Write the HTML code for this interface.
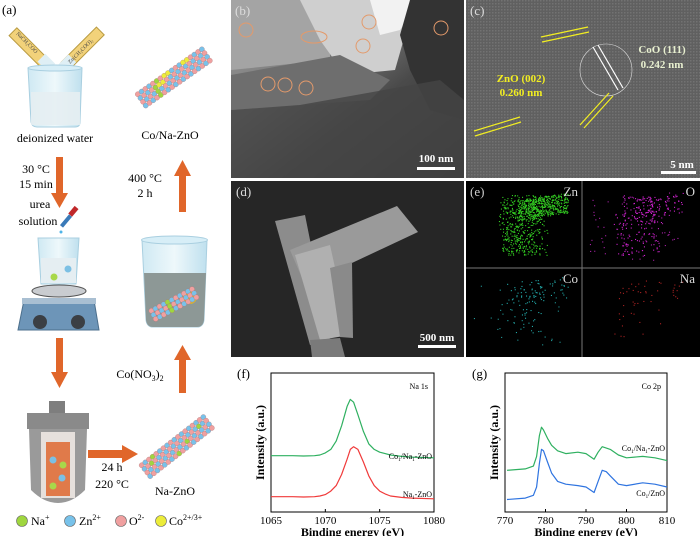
<!DOCTYPE html>
<html><head><meta charset="utf-8"><style>
html,body{margin:0;padding:0;background:#fff;}
svg{display:block;font-family:"Liberation Serif",serif;}
</style></head><body>
<svg id="fig" width="700" height="536" viewBox="0 0 700 536" xmlns="http://www.w3.org/2000/svg">
<defs>
<linearGradient id="glass" x1="0" x2="1"><stop offset="0" stop-color="#cfe9f3"/><stop offset="0.5" stop-color="#eef8fb"/><stop offset="1" stop-color="#bfe0ee"/></linearGradient>
<linearGradient id="bgB" x1="0" y1="0" x2="1" y2="1"><stop offset="0" stop-color="#9a9a9a"/><stop offset="0.35" stop-color="#7d7d7d"/><stop offset="0.6" stop-color="#4a4a4a"/><stop offset="1" stop-color="#2e2e2e"/></linearGradient>
<pattern id="lattice" width="3" height="3" patternUnits="userSpaceOnUse"><rect width="3" height="3" fill="#6a6a6a"/><rect width="1.5" height="1.5" fill="#8a8a8a"/></pattern>
</defs>

<!-- ================= Panel (a) ================= -->
<g>
<text x="2" y="14" font-size="13">(a)</text>
<g>
<rect x="25" y="24" width="11" height="50" fill="#f2d27a" stroke="#b89a40" transform="rotate(-45 31 49)"/>
<rect x="77" y="24" width="11" height="50" fill="#f2d27a" stroke="#b89a40" transform="rotate(45 83 49)"/>
<rect x="41" y="56" width="11" height="14" fill="#dfeff5" transform="rotate(-45 46 63)"/>
<rect x="62" y="56" width="11" height="14" fill="#dfeff5" transform="rotate(45 67 63)"/>
<text x="0" y="0" font-size="5.5" transform="translate(16,34) rotate(45)" fill="#444">NaCH₃COO</text>
<text x="0" y="0" font-size="5.5" transform="translate(70,64) rotate(-45)" fill="#444">Zn(CH₃COO)₂</text>
</g>
<g>
<path d="M28 68 L31 122 Q32 127 37 127 L75 127 Q80 127 80 122 L82 68 Z" fill="url(#glass)" stroke="#a9cfe0"/>
<rect x="31" y="92" width="49" height="33" fill="#e5eef2" opacity="0.9"/>
<ellipse cx="55" cy="68" rx="27" ry="3" fill="#d7eef7" stroke="#a9cfe0"/>
</g>
<text x="55" y="142" font-size="12" text-anchor="middle">deionized water</text>

<g fill="#e0662a">
<rect x="56" y="157" width="7" height="38"/><polygon points="51,193 68,193 59.5,208"/>
<rect x="56" y="338" width="7" height="36"/><polygon points="51,372 68,372 59.5,388"/>
<rect x="88" y="450" width="36" height="8"/><polygon points="122,445 122,463 138,454"/>
<rect x="179" y="358" width="7" height="35"/><polygon points="174,360 191,360 182.5,345"/>
<rect x="179" y="174" width="7" height="38"/><polygon points="174,176 191,176 182.5,160"/>
</g>
<text x="36" y="173" font-size="12" text-anchor="middle">30 °C</text>
<text x="36" y="188" font-size="12" text-anchor="middle">15 min</text>
<text x="40" y="208" font-size="12" text-anchor="middle">urea</text>
<text x="38" y="225" font-size="12" text-anchor="middle">solution</text>
<g>
<rect x="64" y="214" width="4" height="14" fill="#3a7ab8" transform="rotate(40 66 221)"/>
<rect x="71" y="206" width="5" height="10" fill="#c0282a" transform="rotate(40 73 211)"/>
<circle cx="61" cy="232" r="1.5" fill="#4fb4e8"/>
</g>
<text x="145" y="182" font-size="12" text-anchor="middle">400 °C</text>
<text x="145" y="197" font-size="12" text-anchor="middle">2 h</text>
<text x="140" y="378" font-size="12" text-anchor="middle">Co(NO<tspan font-size="8" dy="3">3</tspan><tspan dy="-3">)</tspan><tspan font-size="8" dy="3">2</tspan></text>
<text x="112" y="471" font-size="12" text-anchor="middle">24 h</text>
<text x="112" y="488" font-size="12" text-anchor="middle">220 °C</text>
<text x="175" y="495" font-size="12" text-anchor="middle">Na-ZnO</text>
<text x="170" y="139" font-size="12" text-anchor="middle">Co/Na-ZnO</text>

<g>
<path d="M38 238 L41 284 L76 284 L79 238 Z" fill="url(#glass)" stroke="#a9cfe0"/>
<rect x="41" y="258" width="35" height="25" fill="#e5eef2"/>
<circle cx="54" cy="277" r="3.5" fill="#a8d84a"/><circle cx="68" cy="269" r="3.5" fill="#7cc0e4"/>
<ellipse cx="59" cy="291" rx="27" ry="6" fill="#c9ccd0" stroke="#555"/>
<path d="M24 300 L94 300 L99 330 L18 330 Z" fill="#6d95b8" stroke="#4c6f8c"/>
<rect x="22" y="298" width="74" height="6" fill="#a9bfd2"/>
<circle cx="40" cy="322" r="7" fill="#3b3f44"/><circle cx="78" cy="322" r="7" fill="#3b3f44"/>
</g>
<g>
<rect x="49" y="401" width="16" height="12" fill="#7e7e7e"/>
<rect x="27" y="413" width="62" height="16" fill="#8a8a8a"/>
<path d="M29 429 L87 429 L85 490 Q72 503 58 503 Q44 503 31 490 Z" fill="#9a9a9a"/>
<rect x="41" y="432" width="34" height="66" fill="#e6e0dc"/>
<rect x="46" y="442" width="24" height="54" fill="#e07a4a"/>
<circle cx="53" cy="460" r="3.5" fill="#7cc0e4"/><circle cx="63" cy="465" r="3.5" fill="#a8d84a"/>
<circle cx="62" cy="478" r="3.5" fill="#7cc0e4"/><circle cx="53" cy="486" r="3.5" fill="#a8d84a"/>
</g>
<g>
<path d="M142 240 L146 320 Q147 327 153 327 L197 327 Q203 327 204 320 L207 240 Z" fill="url(#glass)" stroke="#a9cfe0"/>
<path d="M144 273 L206 273 L204 320 Q203 327 197 327 L153 327 Q147 327 146 320 Z" fill="#8d9896"/>
<circle cx="190" cy="297" r="7" fill="#d9b430"/>
<ellipse cx="174.5" cy="240" rx="33" ry="4" fill="#d7eef7" stroke="#a9cfe0"/>
</g>
<g id="rods"></g>
<g font-size="12">
<circle cx="22" cy="521" r="5.5" fill="#9fd63f" stroke="#666" stroke-width="0.6"/><text x="31" y="525">Na<tspan font-size="8" dy="-5">+</tspan></text>
<circle cx="70" cy="521" r="5.5" fill="#78c2ea" stroke="#666" stroke-width="0.6"/><text x="79" y="525">Zn<tspan font-size="8" dy="-5">2+</tspan></text>
<circle cx="121" cy="521" r="5.5" fill="#f0a0a0" stroke="#666" stroke-width="0.6"/><text x="129" y="525">O<tspan font-size="8" dy="-5">2-</tspan></text>
<circle cx="161" cy="521" r="5.5" fill="#ecec3a" stroke="#666" stroke-width="0.6"/><text x="169" y="525">Co<tspan font-size="8" dy="-5">2+/3+</tspan></text>
</g>
</g>

<!-- ================= Panel (b) ================= -->
<g>
<rect x="231" y="0" width="233" height="178" fill="url(#bgB)"/>
<path d="M231 0 L300 0 L330 25 L330 60 L231 70 Z" fill="#a4a4a4"/>
<path d="M300 0 L410 0 L405 35 L395 70 L345 75 L320 40 Z" fill="#cfcfcf"/>
<path d="M370 0 L420 0 L400 30 L380 35 Z" fill="#f2f2f2"/>
<path d="M410 0 L464 0 L464 120 L430 110 L410 70 L400 35 Z" fill="#333"/>
<path d="M231 75 L340 55 L390 80 L370 100 L300 105 L231 110 Z" fill="#6e6e6e"/>
<path d="M231 110 L300 105 L440 80 L464 100 L464 178 L231 178 Z" fill="#454545" opacity="0.8"/>
<g fill="none" stroke="#e39a6b" stroke-width="1">
<circle cx="246" cy="30" r="7"/><ellipse cx="314" cy="37" rx="13" ry="6"/><circle cx="369" cy="22" r="7"/><circle cx="363" cy="46" r="7"/><circle cx="441" cy="28" r="7"/><circle cx="268" cy="84" r="7"/><circle cx="285" cy="85" r="7"/><circle cx="306" cy="88" r="7"/>
</g>
<text x="235" y="15" font-size="13" fill="#ddd">(b)</text>
<text x="436" y="162" font-size="11" font-weight="bold" fill="#fff" text-anchor="middle">100 nm</text>
<rect x="417" y="167" width="38" height="3" fill="#fff"/>
</g>

<!-- ================= Panel (c) ================= -->
<g>
<rect x="466" y="0" width="234" height="178" fill="url(#lattice)"/>
<rect x="466" y="0" width="234" height="178" fill="#555" opacity="0.45"/>
<circle cx="606" cy="70" r="26" fill="none" stroke="#ddd" stroke-width="0.6"/>
<g stroke="#f2ee22" stroke-width="1.2">
<line x1="541" y1="37" x2="588" y2="27"/><line x1="542" y1="42" x2="589" y2="32"/>
<line x1="474" y1="131" x2="520" y2="117"/><line x1="475" y1="136" x2="521" y2="122"/>
<line x1="580" y1="125" x2="609" y2="93"/><line x1="584" y1="128" x2="613" y2="96"/>
</g>
<g stroke="#fff" stroke-width="1.2"><line x1="593" y1="47" x2="618" y2="90"/><line x1="598" y1="45" x2="623" y2="88"/></g>
<text x="470" y="15" font-size="13" fill="#ddd">(c)</text>
<text x="521" y="82" font-size="11" font-weight="bold" fill="#f2ee22" text-anchor="middle">ZnO (002)</text>
<text x="521" y="96" font-size="11" font-weight="bold" fill="#f2ee22" text-anchor="middle">0.260 nm</text>
<text x="662" y="53" font-size="11" font-weight="bold" fill="#e8f0d0" text-anchor="middle">CoO (111)</text>
<text x="662" y="68" font-size="11" font-weight="bold" fill="#e8f0d0" text-anchor="middle">0.242 nm</text>
<text x="682" y="168" font-size="11" font-weight="bold" fill="#fff" text-anchor="middle">5 nm</text>
<rect x="661" y="171" width="35" height="3" fill="#fff"/>
</g>

<!-- ================= Panel (d) ================= -->
<g>
<rect x="231" y="181" width="233" height="176" fill="#262626"/>
<path d="M275 221 L305 215 L330 340 L310 345 Z" fill="#8c8c8c"/>
<path d="M290 250 L397 206 L418 232 L305 285 Z" fill="#9a9a9a"/>
<path d="M295 255 L330 245 L350 335 L320 340 Z" fill="#b0b0b0"/>
<path d="M330 268 L352 262 L353 338 L340 337 Z" fill="#8a8a8a"/>
<path d="M310 340 L340 338 L345 357 L312 357 Z" fill="#7a7a7a"/>
<text x="236" y="196" font-size="13" fill="#ddd">(d)</text>
<text x="437" y="341" font-size="11" font-weight="bold" fill="#fff" text-anchor="middle">500 nm</text>
<rect x="418" y="345" width="38" height="3" fill="#fff"/>
</g>

<!-- ================= Panel (e) ================= -->
<g>
<rect x="466" y="181" width="234" height="176" fill="#000"/>
<line x1="582" y1="181" x2="582" y2="357" stroke="#777"/>
<line x1="466" y1="268" x2="700" y2="268" stroke="#777"/>
<g id="dots"></g>
<text x="470" y="196" font-size="13" fill="#ccc">(e)</text>
<text x="578" y="196" font-size="13" fill="#ddd" text-anchor="end">Zn</text>
<text x="695" y="196" font-size="13" fill="#ddd" text-anchor="end">O</text>
<text x="578" y="283" font-size="13" fill="#ddd" text-anchor="end">Co</text>
<text x="695" y="283" font-size="13" fill="#ddd" text-anchor="end">Na</text>
</g>

<g id="chartF"></g>
<g id="chartG"></g>
</svg>
<script>
// ---- Chart data (f) Na 1s ----
const naEnergy = [1065,1067,1068,1069,1069.5,1070,1070.5,1071,1071.5,1072,1072.3,1072.6,1073,1073.5,1074,1074.5,1075,1075.5,1076,1077,1078,1080];
const naCoNaZnO = [40.5,40.5,40.3,40.5,41,42.5,45,51,62,76,81,79,70,58,49,45,43,42,41,40,39.5,39];
const naNaZnO = [11,11,10.8,11,11.5,12.5,15,19,27,38,45,47,45,36,26,19,15,13,11.5,10.5,10,9.5];
const naTicks = [1065,1070,1075,1080];
// ---- Chart data (g) Co 2p ----
const coEnergy = [770.5,775,777,777.8,778.5,779,779.5,780.5,781.5,783,785,788,790,792,793,794,795,796,798,800,804,807,810];
const coCoNaZnO = [30,31,33,40,55,61,59,53,48,44,42,43,42,38,43,47,46,45,41,39,40,39,37];
const coCoZnO = [9,10,12,18,35,45,44,36,28,22,20,19,18,14,22,30,29,26,20,19,21,20,18];
const coTicks = [770,780,790,800,810];

const NS='http://www.w3.org/2000/svg';
function mk(tag, attrs, parent){const e=document.createElementNS(NS,tag);for(const k in attrs)e.setAttribute(k,attrs[k]);parent.appendChild(e);return e;}

function drawChart(root, box, xmin, xmax, ticks, xs, series, colors, labelBoxes, title){
  const sx=v=>box.x+(v-xmin)/(xmax-xmin)*box.w;
  const sy=v=>box.y+box.h-v/100*box.h;
  const frame=mk('rect',{x:box.x,y:box.y,width:box.w,height:box.h,fill:'none',stroke:'#000','stroke-width':1},root);
  
  
  ticks.forEach(t=>{
    const tk=mk('line',{x1:sx(t),x2:sx(t),y1:box.y+box.h,y2:box.y+box.h-3,stroke:'#000'},root);
    
    
    const tl=mk('text',{x:sx(t),y:box.y+box.h+12,'font-size':11,'text-anchor':'middle'},root);
    tl.textContent=t;
    
    
  });
  series.forEach((s,i)=>{
    const p=mk('polyline',{points:xs.map((x,j)=>sx(x).toFixed(1)+','+sy(s[j]).toFixed(1)).join(' '),fill:'none',stroke:colors[i],'stroke-width':1.2,'stroke-linejoin':'round'},root);
    
    
  });
  const xl=mk('text',{x:box.x+box.w/2,y:box.y+box.h+24,'font-size':12,'font-weight':'bold','text-anchor':'middle'},root);
  xl.textContent='Binding energy (eV)';
  
  
  const yl=mk('text',{x:0,y:0,'font-size':12,'font-weight':'bold','text-anchor':'middle',transform:'translate('+(box.x-7)+','+(box.y+box.h/2)+') rotate(-90)'},root);
  yl.textContent='Intensity (a.u.)';
  
  
  const tt=mk('text',{x:box.x+box.w-6,y:box.y+16,'font-size':8,'text-anchor':'end'},root);
  tt.textContent=title;
  
  
  labelBoxes.forEach(lb=>{
    const t=mk('text',{x:box.x+box.w-2,y:lb.y,'font-size':8,'text-anchor':'end'},root);
    t.innerHTML=lb.html;
    
    
  });
}
const fRoot=document.getElementById('chartF');
const gRoot=document.getElementById('chartG');
const pf=mk('text',{x:237,y:378,'font-size':13},fRoot);pf.textContent='(f)';


const pg=mk('text',{x:472,y:378,'font-size':13},gRoot);pg.textContent='(g)';


drawChart(fRoot,{x:271,y:373,w:163,h:139},1065,1080,naTicks,naEnergy,[naCoNaZnO,naNaZnO],['#2fb060','#f03a3a'],
 [{y:459,html:'Co<tspan font-size="5" dy="2">1</tspan><tspan dy="-2">/Na</tspan><tspan font-size="5" dy="2">1</tspan><tspan dy="-2">-ZnO</tspan>'},{y:497,html:'Na<tspan font-size="5" dy="2">1</tspan><tspan dy="-2">-ZnO</tspan>'}],'Na 1s');
drawChart(gRoot,{x:505,y:373,w:162,h:139},770,810,coTicks,coEnergy,[coCoNaZnO,coCoZnO],['#2fb060','#2f74e0'],
 [{y:451,html:'Co<tspan font-size="5" dy="2">1</tspan><tspan dy="-2">/Na</tspan><tspan font-size="5" dy="2">1</tspan><tspan dy="-2">-ZnO</tspan>'},{y:496,html:'Co<tspan font-size="5" dy="2">1</tspan><tspan dy="-2">/ZnO</tspan>'}],'Co 2p');

// ---- decorative textures (not chart data) ----
let seed=7;function rnd(){seed=(seed*1103515245+12345)%2147483648;return seed/2147483648;}
const dots=document.getElementById('dots');
function region(cx,cy,shape,n,color){
  for(let i=0;i<n;i++){
    let x,y;
    if(shape==='T'){ if(rnd()<0.55){x=cx+rnd()*40-20+(rnd()*10);y=cy+rnd()*60-30;} else {x=cx+rnd()*50;y=cy-25+rnd()*20-(x-cx)*0.15;} }
    else {x=cx+rnd()*90-45;y=cy+rnd()*70-35;}
    mk('rect',{x:x.toFixed(1),y:y.toFixed(1),width:1.1,height:1.1,fill:color},dots);
  }
}
region(518,225,'T',900,'#33cc22');
region(633,225,'T',260,'#cc22cc');
region(633,225,'S',60,'#aa22aa');
region(518,310,'T',90,'#22aaaa');
region(518,310,'S',40,'#229999');
region(633,310,'T',50,'#aa2222');
const rods=document.getElementById('rods');
function rod(cx,cy,ang,rows,cols,dopes){
  const g=mk('g',{transform:'translate('+cx+','+cy+') rotate('+ang+')'},rods);
  const cs=['#f0a0a0','#78c2ea'];
  for(let r=0;r<rows;r++)for(let c=0;c<cols;c++){
    let col=cs[(r+c)%2];
    const k=r*cols+c; if(dopes.green.includes(k))col='#9fd63f'; if(dopes.yellow.includes(k))col='#ecec3a';
    mk('circle',{cx:(c-cols/2)*4.6,cy:(r-rows/2)*4.6,r:2.6,fill:col,stroke:'#a77','stroke-width':0.3},g);
  }
}
rod(177,78,-35,4,18,{green:[5,22,40,58],yellow:[7,8,23,24,12,13]});
rod(180,447,-38,4,18,{green:[3,20,33,47,62],yellow:[]});
rod(177,305,-28,3,11,{green:[4,15,26],yellow:[]});
</script>
</body></html>
